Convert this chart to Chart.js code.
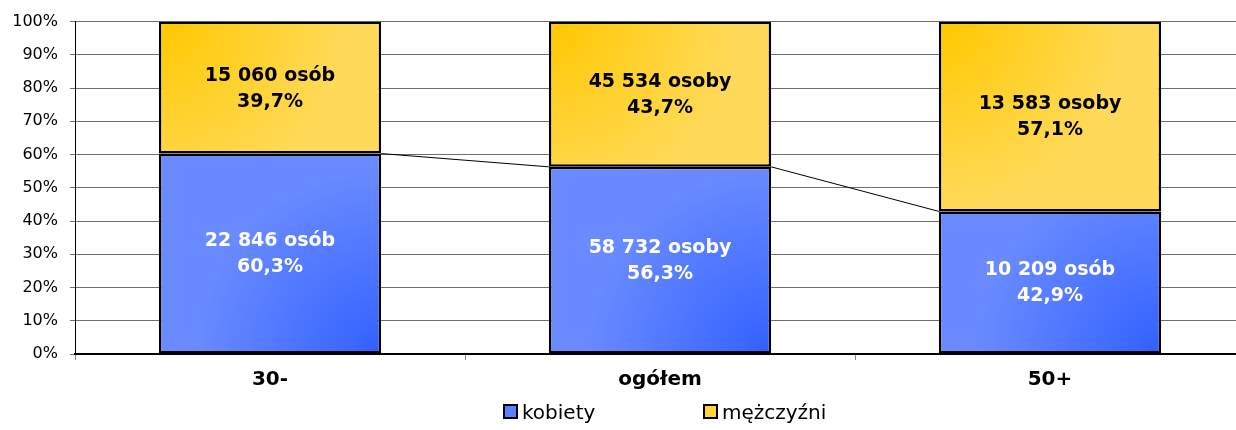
<!DOCTYPE html>
<html>
<head>
<meta charset="utf-8">
<script src="https://cdn.jsdelivr.net/npm/chart.js@4"></script>
<style>
    body { margin: 0; background: #ffffff; overflow: hidden; }
    #wrap { position: relative; width: 1250px; height: 430px; }
    .legend { position: absolute; top: 400px; font: 20px 'DejaVu Sans', sans-serif; color: #000; white-space: nowrap; }
    .legend span.box { display: inline-block; width: 11px; height: 11px; border: 2px solid #000; margin-right: 4px; vertical-align: 0px; }
</style>
</head>
<body>
<div id="wrap">
    <canvas id="chart" width="1250" height="430"></canvas>
    <div class="legend" style="left:503px"><span class="box" style="background:#5a7eff"></span>kobiety</div>
    <div class="legend" style="left:703px"><span class="box" style="background:#ffd43a"></span>mężczyźni</div>
</div>
<script>
// Dane
const categories = ['30-', 'ogółem', '50+'];
const kobietyPct = [60.3, 56.3, 42.9];
const mezczyzniPct = [39.7, 43.7, 57.1];
const kobietyOsob = ['22 846 osób', '58 732 osoby', '10 209 osób'];
const mezczyzniOsob = ['15 060 osób', '45 534 osoby', '13 583 osoby'];
const seriesNames = ['kobiety', 'mężczyźni'];

const FONT = "'DejaVu Sans', sans-serif";
const BAR_PCT = 0.57;

// Balken-Rechteck aus den Skalen berechnen
function barBox(chart, i, from, to) {
    const xs = chart.scales.x, ys = chart.scales.y;
    if (!xs || !ys || !chart.chartArea) return null;
    const cx = xs.getPixelForValue(i);
    const w = (xs.width / categories.length) * BAR_PCT;
    if (!isFinite(cx) || !w) return null;
    return {
        left: cx - w / 2, right: cx + w / 2, w,
        top: ys.getPixelForValue(to), bottom: ys.getPixelForValue(from)
    };
}

function blueFill(context) {
    const i = context.dataIndex;
    const b = barBox(context.chart, i, 0, kobietyPct[i]);
    if (!b) return '#5f82ff';
    const g = context.chart.ctx.createRadialGradient(b.right, b.bottom, 0, b.right, b.bottom, b.w * 0.85);
    g.addColorStop(0, '#2e5eff');
    g.addColorStop(0.15, '#3a67ff');
    g.addColorStop(1, '#6a8bff');
    return g;
}

function yellowFill(context) {
    const i = context.dataIndex;
    const b = barBox(context.chart, i, kobietyPct[i], 100);
    if (!b) return '#ffd84f';
    const g = context.chart.ctx.createRadialGradient(b.left, b.top, 0, b.left, b.top, b.w * 0.85);
    g.addColorStop(0, '#ffc800');
    g.addColorStop(1, '#ffda5a');
    return g;
}

// Verbindungslinien zwischen den Balken
const seriesLinesPlugin = {
    id: 'seriesLines',
    afterDatasetsDraw(chart) {
        const meta = chart.getDatasetMeta(0);
        const ctx = chart.ctx;
        ctx.save();
        ctx.strokeStyle = '#000000';
        ctx.lineWidth = 1;
        for (let i = 0; i < meta.data.length - 1; i++) {
            const a = meta.data[i], b = meta.data[i + 1];
            ctx.beginPath();
            ctx.moveTo(a.x + a.width / 2, a.y);
            ctx.lineTo(b.x - b.width / 2, b.y);
            ctx.stroke();
        }
        ctx.restore();
    }
};

// Beschriftungen in den Segmenten
const segmentLabelsPlugin = {
    id: 'segmentLabels',
    afterDatasetsDraw(chart) {
        const ctx = chart.ctx;
        const texts = [
            { osob: kobietyOsob, pct: kobietyPct, color: '#ffffff' },
            { osob: mezczyzniOsob, pct: mezczyzniPct, color: '#000000' }
        ];
        ctx.save();
        ctx.font = 'bold 19px ' + FONT;
        ctx.textAlign = 'center';
        ctx.textBaseline = 'middle';
        texts.forEach((t, ds) => {
            const meta = chart.getDatasetMeta(ds);
            meta.data.forEach((el, i) => {
                const cy = (el.y + el.base) / 2 + 1;
                ctx.fillStyle = t.color;
                ctx.fillText(t.osob[i], el.x, cy - 13);
                ctx.fillText(t.pct[i].toFixed(1).replace('.', ',') + '%', el.x, cy + 13);
            });
        });
        ctx.restore();
    }
};

new Chart(document.getElementById('chart'), {
    type: 'bar',
    data: {
        labels: categories,
        datasets: [{
            label: seriesNames[0],
            data: kobietyPct,
            backgroundColor: blueFill,
            borderColor: '#000000',
            borderWidth: 2.5,
            borderSkipped: false
        }, {
            label: seriesNames[1],
            data: mezczyzniPct,
            backgroundColor: yellowFill,
            borderColor: '#000000',
            borderWidth: 2.5,
            borderSkipped: false
        }]
    },
    options: {
        responsive: false,
        animation: false,
        barPercentage: BAR_PCT,
        categoryPercentage: 1,
        layout: { padding: { top: 20, right: 5, bottom: 36, left: 0 } },
        plugins: {
            legend: { display: false },
            tooltip: { enabled: false }
        },
        scales: {
            x: {
                stacked: true,
                grid: {
                    offset: true,
                    drawOnChartArea: false,
                    drawTicks: true,
                    tickLength: 6,
                    color: '#888888'
                },
                border: { color: '#000000', width: 2 },
                ticks: {
                    color: '#000000',
                    padding: 8,
                    font: { family: FONT, size: 20, weight: 'bold' }
                },
                afterFit(scale) { scale.height = 40; }
            },
            y: {
                stacked: true,
                min: 0,
                max: 100,
                grid: {
                    color: '#6e6e6e',
                    tickLength: 5,
                    lineWidth: 1
                },
                border: { color: '#000000', width: 1 },
                ticks: {
                    stepSize: 10,
                    color: '#000000',
                    padding: 12,
                    font: { family: FONT, size: 16 },
                    callback: v => v + '%'
                },
                afterFit(scale) { scale.width = 75; }
            }
        }
    },
    plugins: [seriesLinesPlugin, segmentLabelsPlugin]
});
</script>
</body>
</html>
